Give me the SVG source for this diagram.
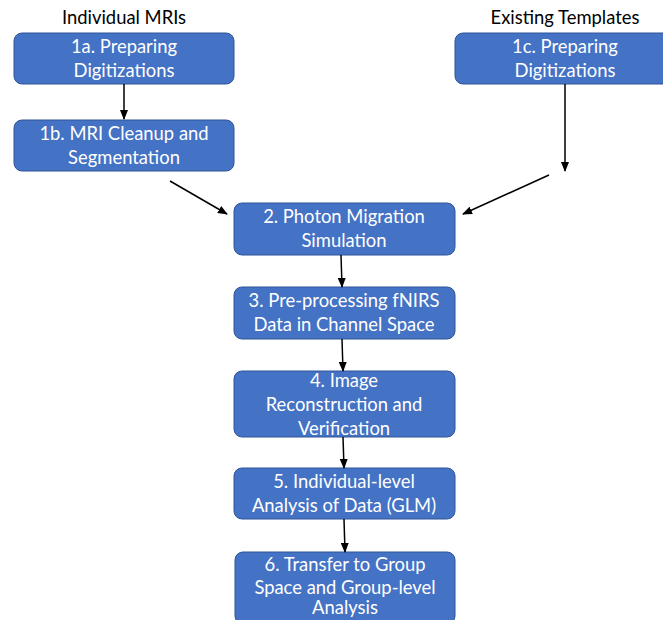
<svg xmlns="http://www.w3.org/2000/svg" width="663" height="620" viewBox="0 0 663 620">
<defs>
<style>
.box{fill:#4472C4;stroke:#2F5597;stroke-width:1}
.t{font-family:"Lato","Open Sans","Liberation Sans",sans-serif;font-size:18.4px;fill:#fff;text-anchor:middle}
.h{font-family:"Lato","Open Sans","Liberation Sans",sans-serif;font-size:18.4px;fill:#000;text-anchor:middle}
.c{stroke:#000;stroke-width:1.5;fill:none;marker-end:url(#ah)}
</style>
<marker id="ah" markerWidth="10" markerHeight="8" refX="9" refY="4" orient="auto" markerUnits="userSpaceOnUse">
<path d="M0,0 L10,4 L0,8 Z" fill="#000"/>
</marker>
</defs>
<rect width="663" height="620" fill="#fff"/>
<text class="h" x="124" y="24">Individual MRIs</text>
<text class="h" x="565" y="24">Existing Templates</text>
<g id="n1a"><rect class="box" x="14" y="33" width="220" height="51" rx="8"/><text class="t" x="124" y="53">1a. Preparing</text><text class="t" x="124" y="77">Digitizations</text></g>
<g id="n1b"><rect class="box" x="14" y="120" width="220" height="51" rx="8"/><text class="t" x="124" y="140">1b. MRI Cleanup and</text><text class="t" x="124" y="164">Segmentation</text></g>
<g id="n1c"><rect class="box" x="455" y="33" width="220" height="51" rx="8"/><text class="t" x="565" y="53">1c. Preparing</text><text class="t" x="565" y="77">Digitizations</text></g>
<g id="n2"><rect class="box" x="234" y="203" width="221" height="52" rx="8"/><text class="t" x="344" y="223">2. Photon Migration</text><text class="t" x="344" y="247">Simulation</text></g>
<g id="n3"><rect class="box" x="234" y="287" width="221" height="52" rx="8"/><text class="t" x="344" y="307">3. Pre-processing fNIRS</text><text class="t" x="344" y="331">Data in Channel Space</text></g>
<g id="n4"><rect class="box" x="234" y="371" width="221" height="66" rx="8"/><text class="t" x="344" y="387">4. Image</text><text class="t" x="344" y="411">Reconstruction and</text><text class="t" x="344" y="435">Verification</text></g>
<g id="n5"><rect class="box" x="234" y="468" width="221" height="51" rx="8"/><text class="t" x="344" y="488">5. Individual-level</text><text class="t" x="344" y="512">Analysis of Data (GLM)</text></g>
<g id="n6"><rect class="box" x="235" y="552" width="220" height="72" rx="8"/><text class="t" x="345" y="571">6. Transfer to Group</text><text class="t" x="345" y="594">Space and Group-level</text><text class="t" x="345" y="614">Analysis</text></g>
<g id="connectors">
<line class="c" x1="124" y1="84" x2="124" y2="119"/>
<line class="c" x1="565" y1="84" x2="565" y2="171"/>
<line class="c" x1="549" y1="175" x2="463" y2="214"/>
<line class="c" x1="170" y1="181" x2="227" y2="214"/>
<line class="c" x1="341" y1="255" x2="342" y2="287"/>
<line class="c" x1="342" y1="339" x2="343" y2="371"/>
<line class="c" x1="343" y1="437" x2="344" y2="468"/>
<line class="c" x1="344" y1="519" x2="345" y2="552"/>
</g>
</svg>
